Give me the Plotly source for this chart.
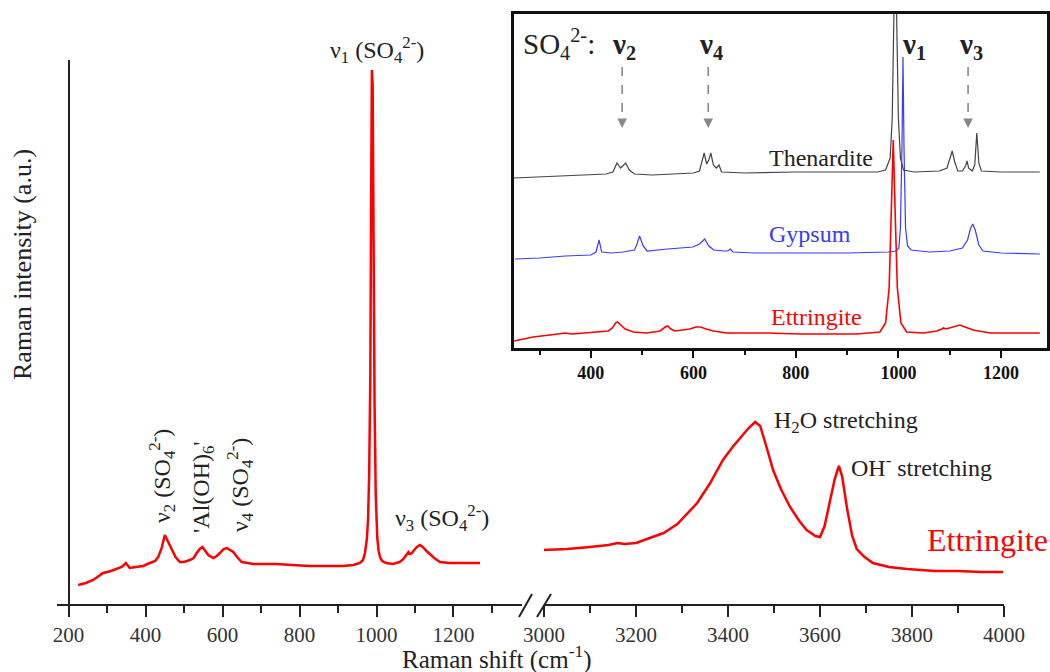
import plotly.graph_objects as go

W, H = 1050, 672
def px(x): return x / W
def py(y): return 1 - y / H

FONT = "Liberation Serif"

# ---------------- main spectrum: ettringite, low-wavenumber segment ----------------
main_low_wn = [225, 245, 264, 280, 290, 310, 325, 338, 349, 359, 375, 394, 405, 416, 425, 433, 442, 450,
               458, 468, 478, 489, 500, 515, 525, 533, 541, 548, 555, 563, 576, 585, 593, 603, 611, 620,
               628, 640, 650, 665, 680, 710, 740, 780, 827, 870, 913, 940, 957, 965, 970, 975, 978, 981,
               984, 986, 988, 990, 992, 995, 998, 1002, 1006, 1010, 1015, 1025, 1043, 1060, 1070, 1078,
               1083, 1087, 1092, 1098, 1105, 1113, 1120, 1130, 1139, 1150, 1165, 1190, 1217, 1245, 1269]
main_low_int = [19, 21, 24, 28, 31, 33, 35, 37, 41, 36, 37, 38, 40, 42, 43, 47, 56, 69,
                63, 54, 47, 42, 42, 44, 46, 51, 55, 57, 53, 49, 46, 48, 51, 55, 56, 54,
                52, 46, 42, 41, 40, 40, 40, 39, 38, 38, 38, 39, 41, 44, 51, 65, 84, 130,
                230, 400, 534, 520, 380, 200, 110, 66, 52, 46, 43, 41, 40, 42, 45, 49,
                52, 50, 51, 54, 57, 59, 57, 53, 50, 46, 42, 41, 41, 41, 41]

# ---------------- main spectrum: ettringite, high-wavenumber segment ----------------
main_high_wn = [3000, 3050, 3100, 3140, 3160, 3175, 3200, 3230, 3260, 3290, 3333, 3360, 3389, 3410,
                3426, 3445, 3459, 3470, 3485, 3498, 3515, 3535, 3555, 3571, 3590, 3600, 3610, 3622,
                3632, 3641, 3648, 3659, 3670, 3680, 3697, 3715, 3750, 3789, 3850, 3900, 3950, 3998]
main_high_int = [54, 55, 57, 59, 61, 60, 61, 66, 71, 80, 101, 120, 144, 157,
                 166, 176, 182, 178, 155, 134, 115, 97, 83, 74, 68, 67, 78, 104,
                 125, 138, 128, 95, 68, 55, 47, 41, 37, 35, 33, 33, 32, 32]

# ---------------- inset spectra ----------------
then_wn = [250, 300, 350, 400, 430, 443, 451, 458, 465, 468, 475, 485, 520, 560, 600, 612, 617, 621, 626,
           630, 634, 639, 645, 650, 655, 700, 800, 900, 960, 975, 984, 988, 991, 994, 997, 1000, 1004,
           1010, 1030, 1080, 1095, 1100, 1105, 1110, 1116, 1125, 1131, 1134, 1137, 1144, 1149, 1153,
           1157, 1162, 1200, 1276]
then_int = [170, 171, 172, 173, 174, 176, 185, 180, 183, 185, 178, 174, 173, 174, 175, 177, 186, 195, 184,
            188, 195, 183, 180, 183, 176, 175, 176, 176, 176, 178, 190, 230, 320, 420, 320, 230, 190,
            178, 176, 177, 180, 190, 197, 186, 177, 177, 182, 187, 180, 177, 183, 215,
            185, 177, 176, 176]

gyp_wn = [252, 300, 350, 400, 410, 416, 421, 440, 462, 485, 490, 495, 502, 510, 550, 599, 612, 622, 630,
          640, 660, 667, 672, 677, 720, 800, 900, 980, 995, 1001, 1004, 1007, 1009, 1011, 1014, 1018,
          1025, 1060, 1100, 1125, 1135, 1141, 1145, 1150, 1157, 1165, 1200, 1276]
gyp_int = [89, 90, 92, 93, 96, 108, 96, 95, 96, 98, 104, 112, 102, 97, 99, 101, 104, 109, 102,
           98, 97, 97, 99, 96, 95, 95, 95, 96, 97, 100, 120, 200, 291, 200, 120, 102,
           98, 96, 97, 100, 108, 120, 124, 118, 103, 97, 95, 94]

ett_wn = [250, 287, 320, 340, 350, 363, 392, 418, 434, 442, 448, 452, 458, 467, 483, 509, 535, 545, 550,
          556, 564, 593, 605, 614, 625, 639, 665, 743, 808, 919, 964, 975, 982, 986, 990, 994, 998,
          1005, 1016, 1049, 1075, 1085, 1088, 1093, 1100, 1112, 1120, 1130, 1146, 1179, 1276]
ett_int = [7, 11, 13, 14, 15, 14, 15, 16, 17, 20, 25, 26, 23, 19, 16, 15, 17, 21, 22,
           19, 17, 19, 21, 21, 19, 17, 15, 15, 14, 14, 16, 25, 60, 130, 208, 130, 60,
           25, 16, 15, 17, 19, 20, 19, 20, 22, 23, 21, 18, 15, 15]

main_ticks_low = [200, 400, 600, 800, 1000, 1200]
main_minor_low = [300, 500, 700, 900, 1100, 1300]
main_ticks_high = [3000, 3200, 3400, 3600, 3800, 4000]
main_minor_high = [3100, 3300, 3500, 3700, 3900]
inset_ticks = [400, 600, 800, 1000, 1200]
inset_minor = [300, 500, 700, 900, 1100]

RED = "#ff0000"
BLUE = "#3a3aff"
GREY = "#444444"
AX = "#222222"

fig = go.Figure()
fig.add_trace(go.Scatter(x=main_low_wn, y=main_low_int, mode="lines", xaxis="x", yaxis="y",
                         line=dict(color=RED, width=2.5), showlegend=False))
fig.add_trace(go.Scatter(x=main_high_wn, y=main_high_int, mode="lines", xaxis="x2", yaxis="y",
                         line=dict(color=RED, width=2.5), showlegend=False))
fig.add_trace(go.Scatter(x=then_wn, y=then_int, mode="lines", xaxis="x3", yaxis="y3",
                         line=dict(color=GREY, width=1.2), showlegend=False))
fig.add_trace(go.Scatter(x=gyp_wn, y=gyp_int, mode="lines", xaxis="x3", yaxis="y3",
                         line=dict(color=BLUE, width=1.2), showlegend=False))
fig.add_trace(go.Scatter(x=ett_wn, y=ett_int, mode="lines", xaxis="x3", yaxis="y3",
                         line=dict(color=RED, width=1.6), showlegend=False))

tickfont_main = dict(family=FONT, size=21, color="#333333")
common_x = dict(showgrid=False, zeroline=False, showline=True, linecolor=AX, linewidth=2,
                ticks="outside", ticklen=11, tickwidth=2, tickcolor=AX, tickfont=tickfont_main,
                anchor="y", ticklabelstandoff=0, automargin=False)

fig.update_layout(
    template="none",
    width=W, height=H, margin=dict(l=0, r=0, t=0, b=0, pad=0), autosize=False,
    paper_bgcolor="white", plot_bgcolor="white",
    font=dict(family=FONT, color="#222222"),
    xaxis=dict(domain=[px(57), px(522)], range=[170, 1378], tickvals=main_ticks_low,
               minor=dict(tickvals=main_minor_low, ticks="outside", ticklen=7, tickwidth=2,
                          tickcolor=AX, showgrid=False), **common_x),
    xaxis2=dict(domain=[px(544), px(1004)], range=[3000, 4000], tickvals=main_ticks_high,
                minor=dict(tickvals=main_minor_high, ticks="outside", ticklen=7, tickwidth=2,
                           tickcolor=AX, showgrid=False), **common_x),
    yaxis=dict(domain=[py(604), py(60)], range=[0, 544], anchor="free", position=px(68.6),
               showline=True, linecolor=AX, linewidth=2, showticklabels=False, ticks="",
               showgrid=False, zeroline=False, automargin=False),
    xaxis3=dict(domain=[px(514), px(1047)], range=[250, 1290], anchor="y3", tickvals=inset_ticks,
                showgrid=False, zeroline=False, showline=True, mirror=True, linecolor="#111111",
                linewidth=2.5, ticks="outside", ticklen=7, tickwidth=2, tickcolor="#111111",
                minor=dict(tickvals=inset_minor, ticks="outside", ticklen=4, tickwidth=2,
                           tickcolor="#111111", showgrid=False),
                tickfont=dict(family=FONT, size=18, color="#111111", weight="bold"),
                ticklabelstandoff=0, automargin=False),
    yaxis3=dict(domain=[py(348), py(14)], range=[0, 334], anchor="x3", showgrid=False,
                zeroline=False, showline=True, mirror=True, linecolor="#111111", linewidth=2.5,
                showticklabels=False, ticks="", automargin=False),
)

ann = []
def t(text, x, y, size, color="#222222", angle=0, xanchor="center", bold=False):
    f = dict(family=FONT, size=size, color=color)
    if bold:
        f["weight"] = "bold"
    ann.append(dict(text=text, x=x, y=y, xref="paper", yref="paper", showarrow=False, font=f,
                    textangle=angle, xanchor=xanchor, yanchor="middle"))

# axis titles
t("Raman shift (cm<sup>-1</sup>)", px(497), py(657), 25)
t("Raman intensity (a.u.)", px(22), py(265), 26, angle=-90)

# main peak labels
t("ν<sub>1</sub> (SO<sub>4</sub><sup>2-</sup>)", px(377), py(50), 24)
t("ν<sub>2</sub> (SO<sub>4</sub><sup>2-</sup>)", px(162), py(476), 24, angle=-90)
t("'Al(OH)<sub>6</sub>'", px(203), py(487), 24, angle=-90)
t("ν<sub>4</sub> (SO<sub>4</sub><sup>2-</sup>)", px(240), py(485), 24, angle=-90)
t("ν<sub>3</sub> (SO<sub>4</sub><sup>2-</sup>)", px(442), py(518), 24)
t("H<sub>2</sub>O stretching", px(846), py(422), 24)
t("OH<sup>-</sup> stretching", px(922), py(466), 24)
t("Ettringite", px(987), py(540), 32, color=RED)

# inset labels
t("SO<sub>4</sub><sup>2-</sup>:", px(521), py(44), 29, xanchor="left")
t("ν<sub>2</sub>", px(624), py(46), 29, bold=True)
t("ν<sub>4</sub>", px(711), py(46), 29, bold=True)
t("ν<sub>1</sub>", px(914), py(46), 29, bold=True)
t("ν<sub>3</sub>", px(971), py(46), 29, bold=True)
t("Thenardite", px(875), py(158), 24, xanchor="right")
t("Gypsum", px(810), py(234), 24, color=BLUE)
t("Ettringite", px(816), py(317), 24, color=RED)

# dashed arrows in inset
arrow_pos = [461, 629, 1136]
shapes = []
for xa in arrow_pos:
    shapes.append(dict(type="line", xref="x3", yref="y3", x0=xa, x1=xa, y0=281, y1=226,
                       line=dict(color="#888888", width=1.6, dash="dash")))
    ann.append(dict(x=xa, y=220, xref="x3", yref="y3", ax=0, ay=-9, text="", showarrow=True,
                    arrowhead=2, arrowsize=1.2, arrowwidth=1.6, arrowcolor="#888888"))

# axis break marks
for (x0, x1) in [(519, 532), (537, 551)]:
    shapes.append(dict(type="line", xref="paper", yref="paper", x0=px(x0), x1=px(x1),
                       y0=py(617), y1=py(594), line=dict(color=AX, width=2)))

fig.update_layout(annotations=ann, shapes=shapes)

# remove the default page margin so the 1050x672 figure fills the window exactly
page_css = ("document.documentElement.style.margin='0';document.documentElement.style.overflow='hidden';"
            "document.body.style.margin='0';document.body.style.overflow='hidden';")
fig.write_html("out.html", post_script=page_css, config={"displayModeBar": False})
